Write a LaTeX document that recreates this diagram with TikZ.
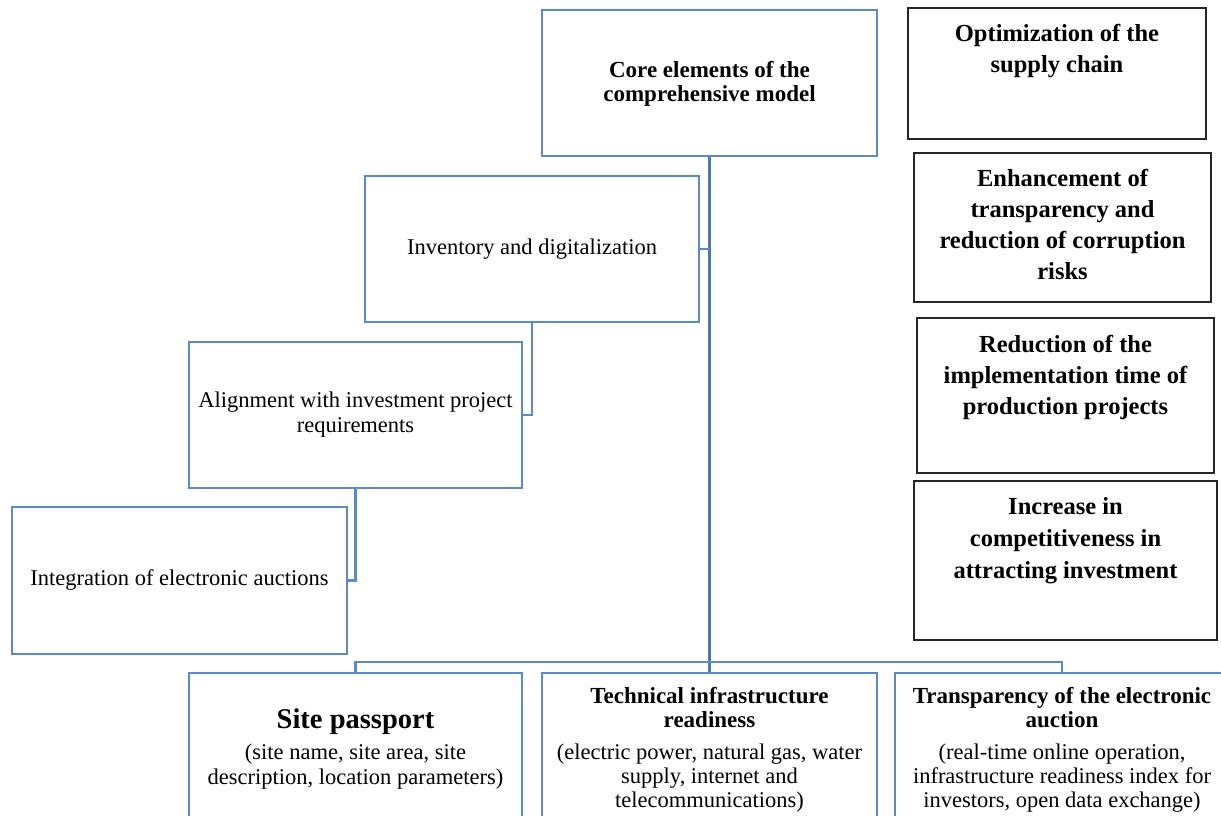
\documentclass[tikz,border=0pt]{standalone}
\usepackage{fontspec}
\setmainfont{Liberation Serif}
\definecolor{boxblue}{HTML}{5B8BC6}
\definecolor{trunkblue}{HTML}{4A78B0}
\begin{document}
\begin{tikzpicture}[x=1pt,y=-1pt,
  bluebox/.style={draw=boxblue, line width=2.5pt, inner sep=0pt, fill=white},
  blackbox/.style={draw=black!85, line width=1.3pt, inner sep=0pt, fill=white},
  link/.style={draw=boxblue, line width=2.5pt},
  trunk/.style={draw=trunkblue, line width=3.2pt},
  txt/.style={align=center, inner sep=0pt, font=\fontsize{22.5}{25}\selectfont},
  desc/.style={align=center, inner sep=0pt, font=\fontsize{22.5}{24}\selectfont},
  btxt/.style={align=center, inner sep=0pt, font=\bfseries\fontsize{24.5}{31}\selectfont},
  ctxt/.style={align=center, inner sep=0pt, font=\bfseries\fontsize{23}{24.5}\selectfont},
]
\useasboundingbox (0,0) rectangle (1221,816);
\fill[white] (0,0) rectangle (1221,816);

% blue boxes
\node[bluebox, minimum width=335pt, minimum height=146pt] (core)  at (709.5,83) {};
\node[bluebox, minimum width=334pt, minimum height=146pt] (inv)   at (532,249) {};
\node[bluebox, minimum width=333pt, minimum height=146pt] (align) at (355.5,415) {};
\node[bluebox, minimum width=335pt, minimum height=147pt] (integ) at (179.5,580.5) {};
\node[bluebox, minimum width=333pt, minimum height=200pt] (site)  at (355.5,773) {};
\node[bluebox, minimum width=335pt, minimum height=200pt] (tech)  at (709.5,773) {};
\node[bluebox, minimum width=334pt, minimum height=200pt] (trans) at (1062,773) {};

% black boxes
\node[blackbox, minimum width=298pt, minimum height=131pt] (r1) at (1057,73.5) {};
\node[blackbox, minimum width=297pt, minimum height=149pt] (r2) at (1062.5,227.5) {};
\node[blackbox, minimum width=297pt, minimum height=155pt] (r3) at (1065.5,395.5) {};
\node[blackbox, minimum width=303pt, minimum height=159pt] (r4) at (1065.5,560.5) {};

% connectors
\draw[trunk] (core.south) -- (tech.north);
\draw[link] (site.north) -- ++(0,-10) -| (trans.north);
\draw[link] (inv.east) -- (inv.east -| core.south);
\draw[link] (inv.south) |- (align.east);
\draw[link] (align.south) |- (integ.east);

% texts
\node[ctxt] (core-t) at ([yshift=-1pt]core.center) {Core elements of the\\comprehensive model};
\node[txt] (inv-t) at (inv.center) {Inventory and digitalization};
\node[txt] (align-t) at (align.center) {Alignment with investment project\\requirements};
\node[txt] (integ-t) at (integ.center) {Integration of electronic auctions};

\node[btxt, anchor=north] (r1-t) at ([yshift=-17pt]r1.north) {Optimization of the\\supply chain};
\node[btxt, anchor=north] (r2-t) at ([yshift=-17pt]r2.north) {Enhancement of\\transparency and\\reduction of corruption\\risks};
\node[btxt, anchor=north] (r3-t) at ([yshift=-18pt]r3.north) {Reduction of the\\implementation time of\\production projects};
\node[btxt, anchor=north, font=\bfseries\fontsize{24.5}{32}\selectfont] (r4-t) at ([yshift=-17pt]r4.north) {Increase in\\competitiveness in\\attracting investment};

\node[anchor=north, inner sep=0pt, font=\bfseries\fontsize{28.5}{30}\selectfont] (site-h) at ([yshift=-37pt]site.north) {Site passport};
\node[desc, anchor=north, font=\fontsize{22.5}{25}\selectfont] (site-d) at ([yshift=-72pt]site.north) {(site name, site area, site\\description, location parameters)};

\node[ctxt, anchor=north] (tech-h) at ([yshift=-15pt]tech.north) {Technical infrastructure\\readiness};
\node[desc, anchor=north] (tech-d) at ([yshift=-72pt]tech.north) {(electric power, natural gas, water\\supply, internet and\\telecommunications)};

\node[ctxt, anchor=north] (trans-h) at ([yshift=-15pt]trans.north) {Transparency of the electronic\\auction};
\node[desc, anchor=north] (trans-d) at ([yshift=-72pt]trans.north) {(real-time online operation,\\infrastructure readiness index for\\investors, open data exchange)};
\end{tikzpicture}
\end{document}
